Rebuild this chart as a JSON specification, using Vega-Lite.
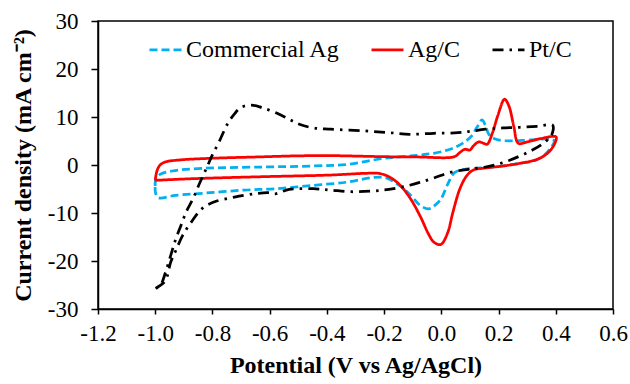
{
  "$schema": "https://vega.github.io/schema/vega-lite/v6.json",
  "width": 515,
  "height": 288,
  "autosize": {"type": "none"},
  "padding": {"left": 98, "top": 21, "right": 17, "bottom": 75},
  "config": {
    "view": {"stroke": "black", "strokeWidth": 1.5},
    "font": "Liberation Serif",
    "legend": {"labelFont": "Liberation Serif"},
    "axis": {
      "grid": false,
      "domainColor": "black",
      "domainWidth": 1.5,
      "tickColor": "black",
      "tickWidth": 1.5,
      "labelColor": "black",
      "labelFont": "Liberation Serif",
      "labelFontSize": 23,
      "titleColor": "black",
      "titleFont": "Liberation Serif",
      "titleFontSize": 24,
      "titleFontWeight": "bold",
      "labelFlush": false
    }
  },
  "datasets": {
    "cv": [
      {"s": "Commercial Ag", "i": 1, "v": -1.0, "j": -4.38},
      {"s": "Commercial Ag", "i": 2, "v": -0.998, "j": -3.0},
      {"s": "Commercial Ag", "i": 3, "v": -0.983, "j": -1.95},
      {"s": "Commercial Ag", "i": 4, "v": -0.941, "j": -1.25},
      {"s": "Commercial Ag", "i": 5, "v": -0.833, "j": -0.7},
      {"s": "Commercial Ag", "i": 6, "v": -0.628, "j": -0.42},
      {"s": "Commercial Ag", "i": 7, "v": -0.448, "j": -0.21},
      {"s": "Commercial Ag", "i": 8, "v": -0.327, "j": 0.14},
      {"s": "Commercial Ag", "i": 9, "v": -0.207, "j": 1.32},
      {"s": "Commercial Ag", "i": 10, "v": -0.086, "j": 2.02},
      {"s": "Commercial Ag", "i": 11, "v": -0.026, "j": 2.44},
      {"s": "Commercial Ag", "i": 12, "v": 0.022, "j": 3.13},
      {"s": "Commercial Ag", "i": 13, "v": 0.058, "j": 3.97},
      {"s": "Commercial Ag", "i": 14, "v": 0.082, "j": 4.8},
      {"s": "Commercial Ag", "i": 15, "v": 0.106, "j": 6.05},
      {"s": "Commercial Ag", "i": 16, "v": 0.124, "j": 7.79},
      {"s": "Commercial Ag", "i": 17, "v": 0.142, "j": 9.39},
      {"s": "Commercial Ag", "i": 18, "v": 0.154, "j": 8.28},
      {"s": "Commercial Ag", "i": 19, "v": 0.166, "j": 6.4},
      {"s": "Commercial Ag", "i": 20, "v": 0.191, "j": 5.36},
      {"s": "Commercial Ag", "i": 21, "v": 0.239, "j": 5.01},
      {"s": "Commercial Ag", "i": 22, "v": 0.311, "j": 5.22},
      {"s": "Commercial Ag", "i": 23, "v": 0.383, "j": 5.36},
      {"s": "Commercial Ag", "i": 24, "v": 0.395, "j": 5.01},
      {"s": "Commercial Ag", "i": 25, "v": 0.383, "j": 3.62},
      {"s": "Commercial Ag", "i": 26, "v": 0.359, "j": 2.02},
      {"s": "Commercial Ag", "i": 27, "v": 0.323, "j": 0.84},
      {"s": "Commercial Ag", "i": 28, "v": 0.275, "j": 0.35},
      {"s": "Commercial Ag", "i": 29, "v": 0.215, "j": -0.21},
      {"s": "Commercial Ag", "i": 30, "v": 0.154, "j": -0.56},
      {"s": "Commercial Ag", "i": 31, "v": 0.082, "j": -0.9},
      {"s": "Commercial Ag", "i": 32, "v": 0.046, "j": -1.6},
      {"s": "Commercial Ag", "i": 33, "v": 0.022, "j": -4.04},
      {"s": "Commercial Ag", "i": 34, "v": -0.002, "j": -7.17},
      {"s": "Commercial Ag", "i": 35, "v": -0.026, "j": -8.56},
      {"s": "Commercial Ag", "i": 36, "v": -0.044, "j": -9.12},
      {"s": "Commercial Ag", "i": 37, "v": -0.074, "j": -8.42},
      {"s": "Commercial Ag", "i": 38, "v": -0.11, "j": -6.12},
      {"s": "Commercial Ag", "i": 39, "v": -0.147, "j": -4.24},
      {"s": "Commercial Ag", "i": 40, "v": -0.195, "j": -2.64},
      {"s": "Commercial Ag", "i": 41, "v": -0.243, "j": -2.64},
      {"s": "Commercial Ag", "i": 42, "v": -0.327, "j": -3.55},
      {"s": "Commercial Ag", "i": 43, "v": -0.448, "j": -4.24},
      {"s": "Commercial Ag", "i": 44, "v": -0.58, "j": -4.94},
      {"s": "Commercial Ag", "i": 45, "v": -0.688, "j": -5.22},
      {"s": "Commercial Ag", "i": 46, "v": -0.809, "j": -5.78},
      {"s": "Commercial Ag", "i": 47, "v": -0.929, "j": -6.33},
      {"s": "Commercial Ag", "i": 48, "v": -0.989, "j": -6.82},
      {"s": "Commercial Ag", "i": 49, "v": -0.999, "j": -5.78},
      {"s": "Commercial Ag", "i": 50, "v": -1.0, "j": -4.38},

      {"s": "Ag/C", "i": 1, "v": -1.0, "j": -3.2},
      {"s": "Ag/C", "i": 2, "v": -0.994, "j": -1.25},
      {"s": "Ag/C", "i": 3, "v": -0.983, "j": 0.0},
      {"s": "Ag/C", "i": 4, "v": -0.965, "j": 0.63},
      {"s": "Ag/C", "i": 5, "v": -0.917, "j": 1.04},
      {"s": "Ag/C", "i": 6, "v": -0.809, "j": 1.39},
      {"s": "Ag/C", "i": 7, "v": -0.628, "j": 1.7},
      {"s": "Ag/C", "i": 8, "v": -0.508, "j": 1.9},
      {"s": "Ag/C", "i": 9, "v": -0.387, "j": 1.95},
      {"s": "Ag/C", "i": 10, "v": -0.207, "j": 1.74},
      {"s": "Ag/C", "i": 11, "v": -0.086, "j": 1.67},
      {"s": "Ag/C", "i": 12, "v": 0.046, "j": 1.74},
      {"s": "Ag/C", "i": 13, "v": 0.064, "j": 2.57},
      {"s": "Ag/C", "i": 14, "v": 0.082, "j": 3.27},
      {"s": "Ag/C", "i": 15, "v": 0.1, "j": 3.13},
      {"s": "Ag/C", "i": 16, "v": 0.112, "j": 3.97},
      {"s": "Ag/C", "i": 17, "v": 0.13, "j": 4.8},
      {"s": "Ag/C", "i": 18, "v": 0.148, "j": 4.52},
      {"s": "Ag/C", "i": 19, "v": 0.16, "j": 4.31},
      {"s": "Ag/C", "i": 20, "v": 0.179, "j": 6.75},
      {"s": "Ag/C", "i": 21, "v": 0.197, "j": 10.23},
      {"s": "Ag/C", "i": 22, "v": 0.221, "j": 13.71},
      {"s": "Ag/C", "i": 23, "v": 0.236, "j": 12.32},
      {"s": "Ag/C", "i": 24, "v": 0.253, "j": 8.14},
      {"s": "Ag/C", "i": 25, "v": 0.269, "j": 4.52},
      {"s": "Ag/C", "i": 26, "v": 0.299, "j": 4.8},
      {"s": "Ag/C", "i": 27, "v": 0.347, "j": 5.5},
      {"s": "Ag/C", "i": 28, "v": 0.401, "j": 5.85},
      {"s": "Ag/C", "i": 29, "v": 0.395, "j": 4.31},
      {"s": "Ag/C", "i": 30, "v": 0.371, "j": 2.44},
      {"s": "Ag/C", "i": 31, "v": 0.335, "j": 1.18},
      {"s": "Ag/C", "i": 32, "v": 0.275, "j": 0.35},
      {"s": "Ag/C", "i": 33, "v": 0.215, "j": -0.21},
      {"s": "Ag/C", "i": 34, "v": 0.154, "j": -0.63},
      {"s": "Ag/C", "i": 35, "v": 0.112, "j": -1.04},
      {"s": "Ag/C", "i": 36, "v": 0.088, "j": -2.3},
      {"s": "Ag/C", "i": 37, "v": 0.064, "j": -5.08},
      {"s": "Ag/C", "i": 38, "v": 0.04, "j": -9.95},
      {"s": "Ag/C", "i": 39, "v": 0.022, "j": -14.13},
      {"s": "Ag/C", "i": 40, "v": -0.002, "j": -16.56},
      {"s": "Ag/C", "i": 41, "v": -0.026, "j": -16.08},
      {"s": "Ag/C", "i": 42, "v": -0.044, "j": -14.47},
      {"s": "Ag/C", "i": 43, "v": -0.074, "j": -10.65},
      {"s": "Ag/C", "i": 44, "v": -0.11, "j": -6.82},
      {"s": "Ag/C", "i": 45, "v": -0.147, "j": -4.04},
      {"s": "Ag/C", "i": 46, "v": -0.183, "j": -2.44},
      {"s": "Ag/C", "i": 47, "v": -0.219, "j": -1.74},
      {"s": "Ag/C", "i": 48, "v": -0.267, "j": -1.74},
      {"s": "Ag/C", "i": 49, "v": -0.387, "j": -2.09},
      {"s": "Ag/C", "i": 50, "v": -0.628, "j": -2.44},
      {"s": "Ag/C", "i": 51, "v": -0.869, "j": -2.85},
      {"s": "Ag/C", "i": 52, "v": -1.0, "j": -3.2},

      {"s": "Pt/C", "i": 1, "v": -0.999, "j": -25.7},
      {"s": "Pt/C", "i": 2, "v": -0.985, "j": -25.2},
      {"s": "Pt/C", "i": 3, "v": -0.964, "j": -24.08},
      {"s": "Pt/C", "i": 4, "v": -0.946, "j": -20.25},
      {"s": "Pt/C", "i": 5, "v": -0.928, "j": -17.81},
      {"s": "Pt/C", "i": 6, "v": -0.904, "j": -14.68},
      {"s": "Pt/C", "i": 7, "v": -0.874, "j": -11.9},
      {"s": "Pt/C", "i": 8, "v": -0.837, "j": -9.12},
      {"s": "Pt/C", "i": 9, "v": -0.795, "j": -7.72},
      {"s": "Pt/C", "i": 10, "v": -0.723, "j": -6.68},
      {"s": "Pt/C", "i": 11, "v": -0.651, "j": -5.98},
      {"s": "Pt/C", "i": 12, "v": -0.604, "j": -5.78},
      {"s": "Pt/C", "i": 13, "v": -0.58, "j": -6.0},
      {"s": "Pt/C", "i": 14, "v": -0.532, "j": -5.08},
      {"s": "Pt/C", "i": 15, "v": -0.448, "j": -4.94},
      {"s": "Pt/C", "i": 16, "v": -0.387, "j": -5.22},
      {"s": "Pt/C", "i": 17, "v": -0.315, "j": -5.57},
      {"s": "Pt/C", "i": 18, "v": -0.243, "j": -5.43},
      {"s": "Pt/C", "i": 19, "v": -0.183, "j": -5.08},
      {"s": "Pt/C", "i": 20, "v": -0.122, "j": -4.38},
      {"s": "Pt/C", "i": 21, "v": -0.074, "j": -3.6},
      {"s": "Pt/C", "i": 22, "v": -0.026, "j": -2.7},
      {"s": "Pt/C", "i": 23, "v": 0.034, "j": -1.5},
      {"s": "Pt/C", "i": 24, "v": 0.094, "j": -0.9},
      {"s": "Pt/C", "i": 25, "v": 0.154, "j": -0.42},
      {"s": "Pt/C", "i": 26, "v": 0.215, "j": 0.49},
      {"s": "Pt/C", "i": 27, "v": 0.275, "j": 1.88},
      {"s": "Pt/C", "i": 28, "v": 0.323, "j": 3.27},
      {"s": "Pt/C", "i": 29, "v": 0.359, "j": 4.66},
      {"s": "Pt/C", "i": 30, "v": 0.385, "j": 6.2},
      {"s": "Pt/C", "i": 31, "v": 0.389, "j": 8.28},
      {"s": "Pt/C", "i": 32, "v": 0.335, "j": 8.07},
      {"s": "Pt/C", "i": 33, "v": 0.275, "j": 7.86},
      {"s": "Pt/C", "i": 34, "v": 0.215, "j": 7.72},
      {"s": "Pt/C", "i": 35, "v": 0.154, "j": 7.45},
      {"s": "Pt/C", "i": 36, "v": 0.094, "j": 6.96},
      {"s": "Pt/C", "i": 37, "v": 0.046, "j": 6.68},
      {"s": "Pt/C", "i": 38, "v": -0.026, "j": 6.61},
      {"s": "Pt/C", "i": 39, "v": -0.11, "j": 6.4},
      {"s": "Pt/C", "i": 40, "v": -0.183, "j": 6.75},
      {"s": "Pt/C", "i": 41, "v": -0.267, "j": 7.1},
      {"s": "Pt/C", "i": 42, "v": -0.387, "j": 7.45},
      {"s": "Pt/C", "i": 43, "v": -0.448, "j": 7.72},
      {"s": "Pt/C", "i": 44, "v": -0.496, "j": 8.49},
      {"s": "Pt/C", "i": 45, "v": -0.532, "j": 9.53},
      {"s": "Pt/C", "i": 46, "v": -0.58, "j": 10.93},
      {"s": "Pt/C", "i": 47, "v": -0.628, "j": 11.97},
      {"s": "Pt/C", "i": 48, "v": -0.664, "j": 12.46},
      {"s": "Pt/C", "i": 49, "v": -0.7, "j": 12.0},
      {"s": "Pt/C", "i": 50, "v": -0.725, "j": 10.5},
      {"s": "Pt/C", "i": 51, "v": -0.748, "j": 8.5},
      {"s": "Pt/C", "i": 52, "v": -0.777, "j": 4.8},
      {"s": "Pt/C", "i": 53, "v": -0.801, "j": 2.02},
      {"s": "Pt/C", "i": 54, "v": -0.819, "j": -0.42},
      {"s": "Pt/C", "i": 55, "v": -0.843, "j": -3.55},
      {"s": "Pt/C", "i": 56, "v": -0.868, "j": -7.03},
      {"s": "Pt/C", "i": 57, "v": -0.892, "j": -9.81},
      {"s": "Pt/C", "i": 58, "v": -0.91, "j": -12.59},
      {"s": "Pt/C", "i": 59, "v": -0.928, "j": -15.38},
      {"s": "Pt/C", "i": 60, "v": -0.946, "j": -18.86},
      {"s": "Pt/C", "i": 61, "v": -0.964, "j": -22.34},
      {"s": "Pt/C", "i": 62, "v": -0.982, "j": -25.1},
      {"s": "Pt/C", "i": 63, "v": -0.999, "j": -25.7}
    ]
  },
  "data": {"name": "cv"},
  "mark": {"type": "line", "strokeWidth": 2.75, "interpolate": "catmull-rom"},
  "encoding": {
    "x": {
      "field": "v",
      "type": "quantitative",
      "scale": {"domain": [-1.2, 0.6], "nice": false, "zero": false},
      "axis": {
        "title": "Potential (V vs Ag/AgCl)",
        "values": [-1.2, -1.0, -0.8, -0.6, -0.4, -0.2, 0.0, 0.2, 0.4, 0.6],
        "labelExpr": "replace(format(datum.value, '.1f'), '\u2212', '-')",
        "tickSize": 5,
        "labelPadding": 8,
        "titlePadding": 8
      }
    },
    "y": {
      "field": "j",
      "type": "quantitative",
      "scale": {"domain": [-30, 30], "nice": false, "zero": false},
      "axis": {
        "title": "Current density (mA cm\u207b\u00b2)",
        "values": [-30, -20, -10, 0, 10, 20, 30],
        "labelExpr": "replace(format(datum.value, 'd'), '\u2212', '-')",
        "tickSize": 7,
        "labelPadding": 13,
        "titlePadding": 12
      }
    },
    "order": {"field": "i", "type": "quantitative"},
    "color": {
      "field": "s",
      "type": "nominal",
      "scale": {"domain": ["Commercial Ag", "Ag/C", "Pt/C"], "range": ["#00B0F0", "#FF0000", "#000000"]},
      "legend": {
        "title": null,
        "orient": "none",
        "legendX": 50,
        "legendY": 11,
        "direction": "horizontal",
        "symbolType": "stroke",
        "symbolSize": 1024,
        "symbolStrokeWidth": 2.75,
        "labelFont": "Liberation Serif",
        "labelFontSize": 24,
        "labelColor": "black",
        "labelOffset": 3,
        "columnPadding": 26,
        "padding": 0
      }
    },
    "strokeDash": {
      "field": "s",
      "type": "nominal",
      "scale": {"domain": ["Commercial Ag", "Ag/C", "Pt/C"], "range": [[8, 4], [1, 0], [11, 6, 2.5, 6]]},
      "legend": {
        "title": null,
        "orient": "none",
        "legendX": 50,
        "legendY": 11,
        "direction": "horizontal",
        "symbolType": "stroke",
        "symbolSize": 1024,
        "symbolStrokeWidth": 2.75,
        "labelFont": "Liberation Serif",
        "labelFontSize": 24,
        "labelColor": "black",
        "labelOffset": 3,
        "columnPadding": 26,
        "padding": 0
      }
    }
  }
}
